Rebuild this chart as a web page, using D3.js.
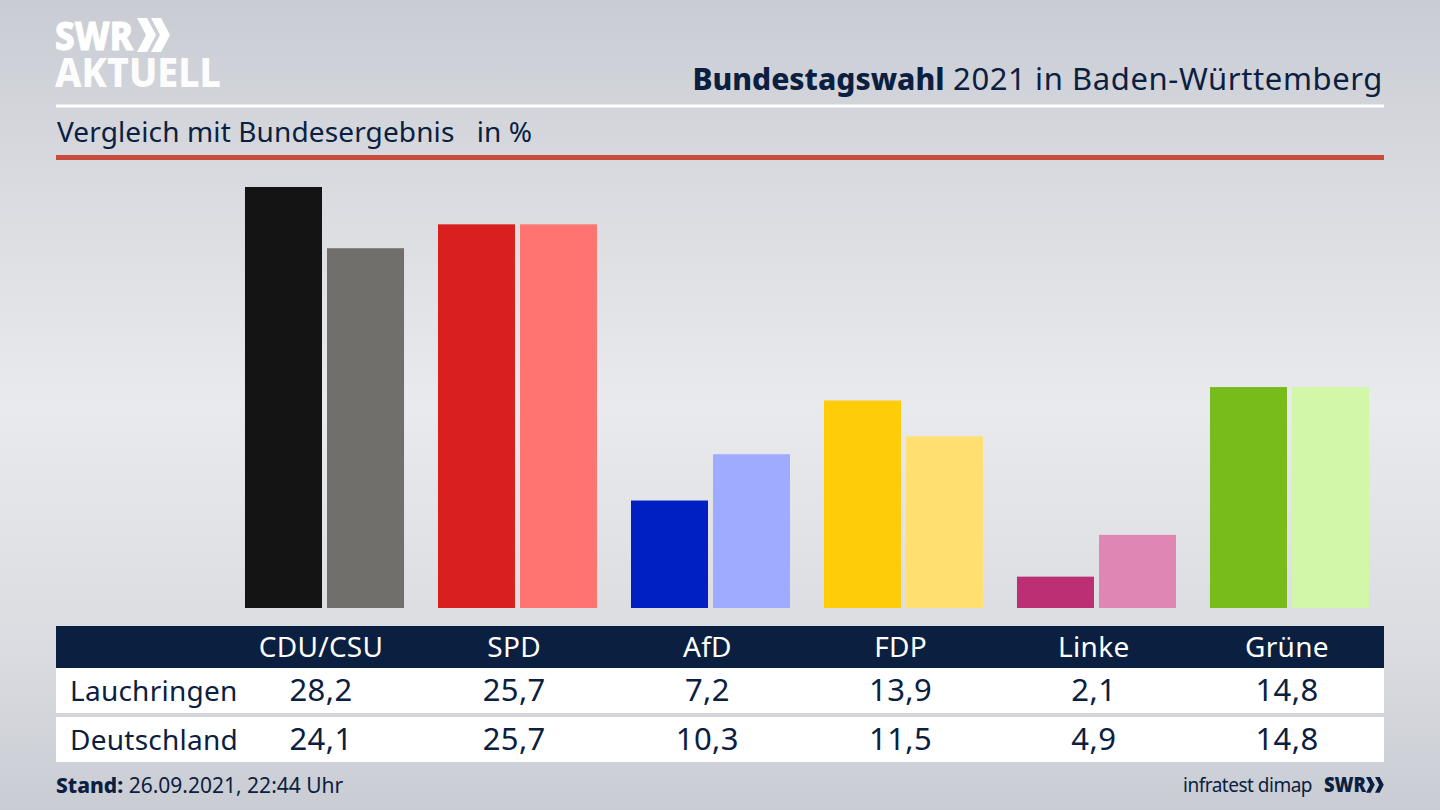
<!DOCTYPE html>
<html>
<head>
<meta charset="utf-8">
<script src="https://cdn.jsdelivr.net/npm/d3@7"></script>
<style>
    html, body { margin: 0; padding: 0; overflow: hidden; background: #d8dadf; }
    svg { display: block; }
    text { font-family: "Noto Sans", sans-serif; fill: #0b2040; }
</style>
</head>
<body>
<div id="chart"></div>
<script>
const parties = ["CDU/CSU", "SPD", "AfD", "FDP", "Linke", "Grüne"];
const regions = ["Lauchringen", "Deutschland"];
const lauchringen = [28.2, 25.7, 7.2, 13.9, 2.1, 14.8];
const deutschland = [24.1, 25.7, 10.3, 11.5, 4.9, 14.8];
const coloursLocal = ["#141414", "#d9201f", "#0020c4", "#ffcc0a", "#bd2f75", "#78bc1c"];
const coloursFederal = ["#716f6c", "#ff7370", "#9eacff", "#ffdf70", "#e086b5", "#d3f7a8"];

const fmt = v => v.toFixed(1).replace(".", ",");
const navy = "#0b2040";

const svg = d3.select("#chart").append("svg")
    .attr("width", 1440)
    .attr("height", 810);

// background
const defs = svg.append("defs");
const bg = defs.append("linearGradient").attr("id", "bg")
    .attr("x1", 0).attr("y1", 0).attr("x2", 0).attr("y2", 1);
[[0, "#c9ccd3"], [0.25, "#dadce1"], [0.5, "#e9eaed"], [0.8, "#dadce1"], [1, "#c9ccd3"]].forEach(s => {
    bg.append("stop").attr("offset", s[0]).attr("stop-color", s[1]);
});
svg.append("rect").attr("width", 1440).attr("height", 810).attr("fill", "url(#bg)");

// logo
const chevron = "M0,0 L10,0 L19,17 L10,34 L0,34 L9,17 Z";
const logo = svg.append("text").attr("font-weight", 800).style("fill", "#fff");
logo.append("tspan").attr("x", 55).attr("y", 50).attr("font-size", 40)
    .attr("textLength", 78).attr("lengthAdjust", "spacingAndGlyphs")
    .style("stroke", "#fff").style("stroke-width", 1)
    .text("SWR");
logo.append("tspan").attr("x", 55).attr("y", 87).attr("font-size", 41)
    .attr("textLength", 166).attr("lengthAdjust", "spacingAndGlyphs")
    .style("opacity", 0.95)
    .text("AKTUELL");
[137, 151].forEach(x => {
    svg.append("path").attr("d", chevron).attr("fill", "#fff")
        .attr("transform", `translate(${x},18)`);
});

// title
const title = svg.append("text").attr("x", 1383).attr("y", 90)
    .attr("text-anchor", "end").attr("font-size", 30);
title.append("tspan").attr("font-weight", 800).text("Bundestagswahl");
title.append("tspan").attr("font-size", 31).attr("letter-spacing", 0.6).text(" 2021 in Baden-Württemberg");

svg.append("rect").attr("x", 56).attr("y", 104.5).attr("width", 1328).attr("height", 3).attr("fill", "#fff");
svg.append("text").attr("x", 57).attr("y", 142).attr("font-size", 28)
    .attr("letter-spacing", 0.12)
    .attr("xml:space", "preserve")
    .text("Vergleich mit Bundesergebnis   in %");
svg.append("rect").attr("x", 56).attr("y", 155).attr("width", 1328).attr("height", 5).attr("fill", "#c84a3c");

// bars
const x0 = d3.scaleBand().domain(parties).range([228, 1386]).paddingInner(0.176).paddingOuter(0.088);
const x1 = d3.scaleBand().domain(regions).range([0, x0.bandwidth()]).paddingInner(0.061);
const y = d3.scaleLinear().domain([0, 28.2]).range([608, 187]);

const groups = svg.selectAll("g.party")
    .data(parties)
    .enter().append("g")
    .attr("class", "party")
    .attr("transform", d => `translate(${x0(d)},0)`);

groups.append("rect")
    .attr("x", x1("Lauchringen"))
    .attr("y", (d, i) => y(lauchringen[i]))
    .attr("width", x1.bandwidth())
    .attr("height", (d, i) => y(0) - y(lauchringen[i]))
    .attr("fill", (d, i) => coloursLocal[i]);

groups.append("rect")
    .attr("x", x1("Deutschland"))
    .attr("y", (d, i) => y(deutschland[i]))
    .attr("width", x1.bandwidth())
    .attr("height", (d, i) => y(0) - y(deutschland[i]))
    .attr("fill", (d, i) => coloursFederal[i]);

// table
const xt = d3.scalePoint().domain(parties).range([321, 1287]);

svg.append("rect").attr("x", 56).attr("y", 626).attr("width", 1328).attr("height", 42).attr("fill", navy);
svg.append("rect").attr("x", 56).attr("y", 668).attr("width", 1328).attr("height", 45).attr("fill", "#fff");
svg.append("rect").attr("x", 56).attr("y", 717).attr("width", 1328).attr("height", 45).attr("fill", "#fff");

svg.selectAll("text.head")
    .data(parties)
    .enter().append("text")
    .attr("class", "head")
    .attr("x", d => xt(d))
    .attr("y", 657)
    .attr("text-anchor", "middle")
    .attr("font-size", 28)
    .attr("letter-spacing", 0.3)
    .style("fill", "#fff")
    .text(d => d);

[[regions[0], lauchringen, 701], [regions[1], deutschland, 750]].forEach(row => {
    svg.append("text").attr("x", 70).attr("y", row[2]).attr("font-size", 28)
        .attr("letter-spacing", 0.25).text(row[0]);
    svg.selectAll(null)
        .data(row[1])
        .enter().append("text")
        .attr("x", (d, i) => xt(parties[i]))
        .attr("y", row[2])
        .attr("text-anchor", "middle")
        .attr("font-size", 31)
        .attr("letter-spacing", 0.4)
        .text(d => fmt(d));
});

// footer
const stand = svg.append("text").attr("x", 56).attr("y", 793).attr("font-size", 21);
stand.append("tspan").attr("font-weight", 800).text("Stand:");
stand.append("tspan").text(" 26.09.2021, 22:44 Uhr");

svg.append("text").attr("x", 1312).attr("y", 792).attr("text-anchor", "end")
    .attr("font-size", 19).attr("letter-spacing", -0.5).text("infratest dimap");
svg.append("text").attr("x", 1324).attr("y", 792).attr("font-size", 21).attr("font-weight", 900)
    .attr("textLength", 42).attr("lengthAdjust", "spacingAndGlyphs").text("SWR");
[1366, 1375].forEach(x => {
    svg.append("path").attr("d", chevron).attr("fill", navy)
        .attr("transform", `translate(${x},777) scale(0.46)`);
});
</script>
</body>
</html>
